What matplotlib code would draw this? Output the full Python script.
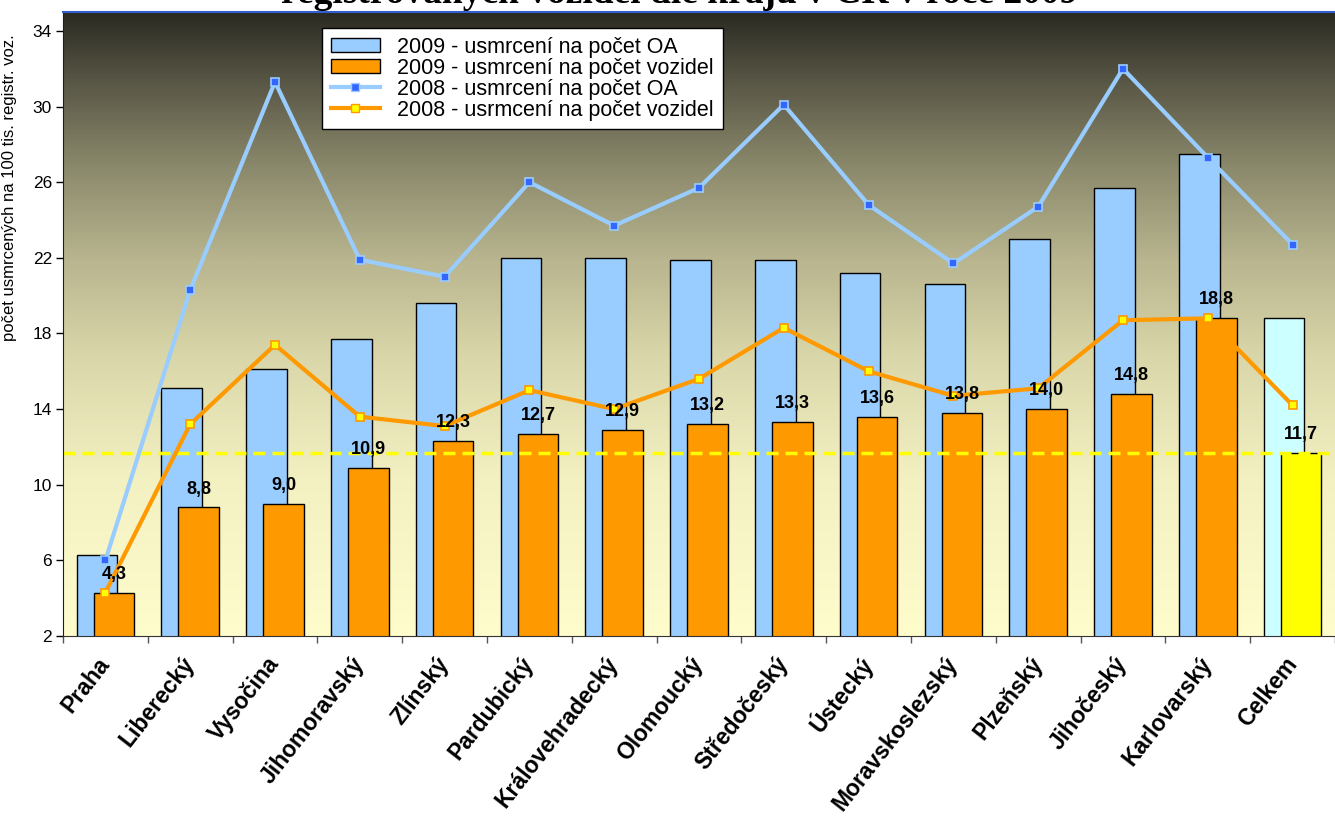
import numpy as np
import matplotlib
matplotlib.use("Agg")
import matplotlib.pyplot as plt
from matplotlib.colors import LinearSegmentedColormap
from matplotlib.patches import Patch
from matplotlib.lines import Line2D

plt.rcParams['font.family'] = ['Liberation Sans', 'DejaVu Sans']

# --- data -------------------------------------------------------------
regions = ["Praha", "Liberecký", "Vysočina", "Jihomoravský", "Zlínský",
           "Pardubický", "Královehradecký", "Olomoucký", "Středočeský",
           "Ústecký", "Moravskoslezský", "Plzeňský", "Jihočeský",
           "Karlovarský", "Celkem"]

oa_2009 = [6.3, 15.1, 16.1, 17.7, 19.6, 22.0, 22.0, 21.9, 21.9,
           21.2, 20.6, 23.0, 25.7, 27.5, 18.8]
vozidla_2009 = [4.3, 8.8, 9.0, 10.9, 12.3, 12.7, 12.9, 13.2, 13.3,
                13.6, 13.8, 14.0, 14.8, 18.8, 11.7]
oa_2008 = [6.0, 20.3, 31.3, 21.9, 21.0, 26.0, 23.7, 25.7, 30.1,
           24.8, 21.7, 24.7, 32.0, 27.3, 22.7]
vozidla_2008 = [4.3, 13.2, 17.4, 13.6, 13.1, 15.0, 14.0, 15.6, 18.3,
                16.0, 14.7, 15.1, 18.7, 18.8, 14.2]
prumer_2009 = 11.7

y_ticks = [2, 6, 10, 14, 18, 22, 26, 30, 34]

# --- figure -----------------------------------------------------------
W, H = 1335, 818
fig = plt.figure(figsize=(W / 100, H / 100), dpi=100)
fig.patch.set_facecolor("white")
ax = fig.add_axes([63 / W, 1 - 636 / H, 1272 / W, 624 / H])

# gradient background of the plot area (pale yellow at bottom, dark olive on top)
bg = LinearSegmentedColormap.from_list("bg", [
    (0.00, "#fffdcc"),
    (0.25, "#f3f0c2"),
    (0.45, "#d9d6a9"),
    (0.60, "#b9b690"),
    (0.75, "#8c8a6c"),
    (0.88, "#5c5a48"),
    (1.00, "#2b2a22"),
])
grad = np.linspace(0, 1, 512).reshape(-1, 1)
ax.imshow(grad, cmap=bg, origin="lower", aspect="auto",
          extent=[0, 1, 0, 1], transform=ax.transAxes, zorder=0)

x = np.arange(len(regions))
w = 0.48
off = 0.10

blue_cols = ["#99ccff"] * (len(regions) - 1) + ["#ccffff"]
orange_cols = ["#ff9900"] * (len(regions) - 1) + ["#ffff00"]

ax.bar(x - off, oa_2009, width=w, bottom=0, color=blue_cols,
       edgecolor="black", linewidth=1.0, zorder=2)
ax.bar(x + off, vozidla_2009, width=w, bottom=0, color=orange_cols,
       edgecolor="black", linewidth=1.0, zorder=3)

# national average reference line
avg = ax.axhline(prumer_2009, color="#ffff00", linewidth=2.5, zorder=4)
avg.set_dashes((12 * 0.72 / 2.5, 7 * 0.72 / 2.5))

# 2008 lines
ax.plot(x, oa_2008, color="#99ccff", linewidth=3, marker="s", markersize=6,
        markerfacecolor="#3366ff", markeredgecolor="#99ccff",
        markeredgewidth=1.2, zorder=5)
ax.plot(x, vozidla_2008, color="#ff9900", linewidth=3, marker="s",
        markersize=6, markerfacecolor="#ffff00", markeredgecolor="#ff9900",
        markeredgewidth=1.2, zorder=5)

# value labels for 2009 per-vehicle bars
for xi, v in zip(x, vozidla_2009):
    ax.annotate(f"{v:.1f}".replace(".", ","), (xi + off, v),
                xytext=(0, 10), textcoords="offset points",
                ha="center", va="baseline", fontsize=13, fontweight="bold",
                color="black", zorder=6)

# axes
ax.set_xlim(-0.5, len(regions) - 0.5)
ax.set_ylim(2, 35)
ax.set_yticks(y_ticks)
ax.set_yticklabels([str(t) for t in y_ticks], fontsize=12.5)
ax.tick_params(axis="y", direction="out", length=5, width=1, pad=3)

ax.set_xticks(x)
ax.set_xticks(np.arange(-0.5, len(regions), 1.0), minor=True)
ax.tick_params(axis="x", which="major", length=0, pad=17)
ax.tick_params(axis="x", which="minor", direction="out", length=5, width=1,
               color="#555555")
ax.set_xticklabels(regions, rotation=52, ha="right", va="center",
                   rotation_mode="anchor", fontsize=16.5, fontweight="bold")

ax.set_ylabel("počet usmrcených na 100 tis. registr. voz.", fontsize=12)
ax.yaxis.set_label_coords(-0.036, 1 - (188 - 12) / 624)

ax.spines["right"].set_visible(False)
ax.spines["top"].set_color("#2f5fd0")
ax.spines["top"].set_linewidth(1.5)
ax.spines["left"].set_color("#1a1a3a")
ax.spines["bottom"].set_color("#333333")
for s in ax.spines.values():
    s.set_zorder(7)

# legend
handles = [
    Patch(facecolor="#99ccff", edgecolor="black", linewidth=1.0),
    Patch(facecolor="#ff9900", edgecolor="black", linewidth=1.0),
    Line2D([], [], color="#99ccff", linewidth=3, marker="s", markersize=6,
           markerfacecolor="#3366ff", markeredgecolor="#99ccff"),
    Line2D([], [], color="#ff9900", linewidth=3, marker="s", markersize=6,
           markerfacecolor="#ffff00", markeredgecolor="#ff9900"),
]
labels = ["2009 - usmrcení na počet OA",
          "2009 - usmrcení na počet vozidel",
          "2008 - usmrcení na počet OA",
          "2008 - usrmcení na počet vozidel"]
leg = ax.legend(handles, labels, loc="upper left",
                bbox_to_anchor=((322 - 63) / 1272, 1 - (28 - 12) / 624),
                fontsize=15.5, frameon=True, fancybox=False, framealpha=1,
                edgecolor="black", borderpad=0.4, labelspacing=0.0,
                handlelength=2.3, handleheight=0.6, handletextpad=0.8,
                borderaxespad=0)
leg.get_frame().set_linewidth(1.0)
leg.set_zorder(8)

# title (top line falls outside the canvas)
fig.text(680 / W, 1 - 3 / H,
         "registrovaných vozidel dle kraju v ČR v roce 2009",
         ha="center", va="baseline", fontsize=27, fontweight="bold",
         family="Liberation Serif")

fig.savefig("out.png", dpi=100)
